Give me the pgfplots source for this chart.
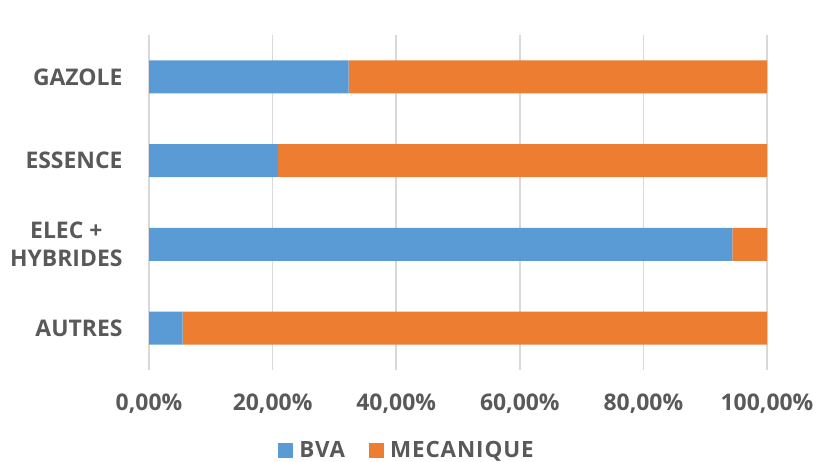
\documentclass[border=0pt]{standalone}
\usepackage{pgfplots}
\pgfplotsset{compat=1.18}
\usepackage{fontspec}
\setmainfont{Open Sans}
\definecolor{bva}{HTML}{5B9BD5}
\definecolor{meca}{HTML}{ED7D31}
\definecolor{txt}{HTML}{595959}
\definecolor{grid}{HTML}{D9D9D9}

% share of each gearbox type, per fuel (categories bottom to top)
% 0 AUTRES, 1 ELEC + HYBRIDES, 2 ESSENCE, 3 GAZOLE
\begin{document}
\begin{tikzpicture}
\useasboundingbox (0,0) rectangle (834bp,462bp);
\begin{axis}[
    at={(149bp,92bp)}, anchor=south west,
    scale only axis, width=618bp, height=335bp,
    xbar stacked, bar width=33bp,
    xmin=0, xmax=100, ymin=-0.5, ymax=3.5,
    axis line style={draw=none},
    major tick length=0pt,
    xmajorgrids, grid style={draw=grid, line width=1.5bp},
    xtick={0,20,40,60,80,100},
    xticklabels={{0,00\%},{20,00\%},{40,00\%},{60,00\%},{80,00\%},{100,00\%}},
    ytick={0,1,2,3},
    yticklabels={AUTRES,{ELEC +\\HYBRIDES},ESSENCE,GAZOLE},
    tick label style={font=\fontsize{23}{27.5}\selectfont\bfseries, text=txt},
    yticklabel style={align=center, xshift=-23bp},
    xticklabel style={yshift=-20bp},
    legend style={at={(407bp-149bp,-80bp)}, anchor=center, draw=none,
        legend columns=2,
        font=\fontsize{22.5}{27}\selectfont\bfseries\addfontfeatures{LetterSpace=4},
        text=txt,
        /tikz/every even column/.append style={column sep=22bp}},
    legend image code/.code={\fill[#1] (0bp,-7.5bp) rectangle (15bp,7.5bp);
        \path (19bp,0bp);},
]
\addplot[fill=bva, draw=none] coordinates {(5.45,0) (94.4,1) (20.9,2) (32.3,3)};
\addplot[fill=meca, draw=none] coordinates {(94.55,0) (5.6,1) (79.1,2) (67.7,3)};
\legend{BVA, MECANIQUE}
\end{axis}
\end{tikzpicture}
\end{document}
